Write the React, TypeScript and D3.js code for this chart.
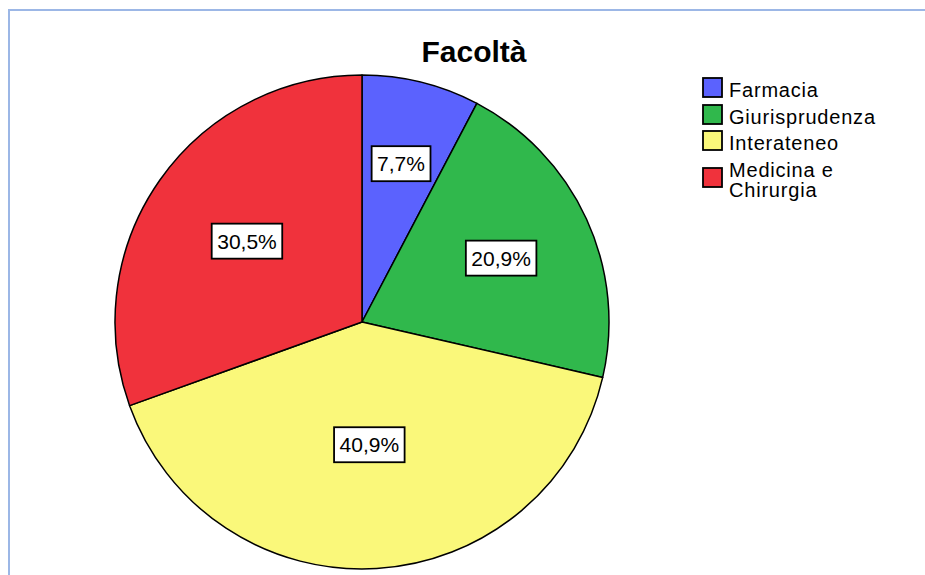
import React from "react";
import * as d3 from "d3";

const categories = ["Farmacia", "Giurisprudenza", "Interateneo", "Medicina e Chirurgia"];
const legendLines = [["Farmacia"], ["Giurisprudenza"], ["Interateneo"], ["Medicina e", "Chirurgia"]];
const values = [7.7, 20.9, 40.9, 30.5];
const labels = ["7,7%", "20,9%", "40,9%", "30,5%"];
const colors = ["#5b62fe", "#30b84c", "#faf87a", "#f0323c"];

const W = 925;
const H = 575;
const cx = 362;
const cy = 322;
const R = 247;

function textWidth(s: string, size: number) {
  const m: Record<string, number> = { ",": 0.278, "%": 0.889 };
  let w = 0;
  for (const c of s) w += m[c] ?? 0.556;
  return w * size;
}

export default function App() {
  const pie = d3.pie<number>().sort(null).value((d) => d);
  const arcs = pie(values);
  const arc = d3.arc<d3.PieArcDatum<number>>().innerRadius(0).outerRadius(R);
  const font = "'Liberation Sans', Arial, Helvetica, sans-serif";
  const labelSize = 21;

  const legendRowY = [78, 105, 131, 168];

  return (
    <svg width={W} height={H} style={{ position: "absolute", left: 0, top: 0, background: "#fff" }}>
      <line x1={8} y1={10} x2={W} y2={10} stroke="#9cb7e6" strokeWidth={2} />
      <line x1={9} y1={9} x2={9} y2={H} stroke="#9cb7e6" strokeWidth={2} />
      <text x={474} y={62} textAnchor="middle" fontFamily={font} fontWeight="bold" fontSize={30} fill="#000">
        Facoltà
      </text>
      <g transform={`translate(${cx},${cy})`}>
        {arcs.map((a, i) => (
          <path key={i} d={arc(a) || ""} fill={colors[i]} stroke="#000" strokeWidth={1.5} strokeLinejoin="round" />
        ))}
        {arcs.map((a, i) => {
          const alpha = a.endAngle - a.startAngle;
          const mid = (a.startAngle + a.endAngle) / 2;
          const dist = (4 * R * Math.sin(alpha / 2)) / (3 * alpha);
          const x = dist * Math.sin(mid);
          const y = -dist * Math.cos(mid);
          const tw = textWidth(labels[i], labelSize);
          const bw = tw + 11;
          const bh = 35;
          return (
            <g key={"l" + i}>
              <rect x={x - bw / 2} y={y - bh / 2} width={bw} height={bh} fill="#fff" stroke="#000" strokeWidth={1.8} />
              <text x={x} y={y + 7.5} textAnchor="middle" fontFamily={font} fontSize={labelSize} fill="#000">
                {labels[i]}
              </text>
            </g>
          );
        })}
      </g>
      <g>
        {categories.map((c, i) => (
          <g key={c}>
            <rect x={703} y={legendRowY[i]} width={19} height={19} fill={colors[i]} stroke="#000" strokeWidth={1.8} />
            {legendLines[i].map((ln, j) => (
              <text key={j} x={729} y={(i === 3 ? 176.7 : legendRowY[i] + 18.5) + j * 20.5} fontFamily={font} fontSize={20} letterSpacing={0.8} fill="#000">
                {ln}
              </text>
            ))}
          </g>
        ))}
      </g>
    </svg>
  );
}
